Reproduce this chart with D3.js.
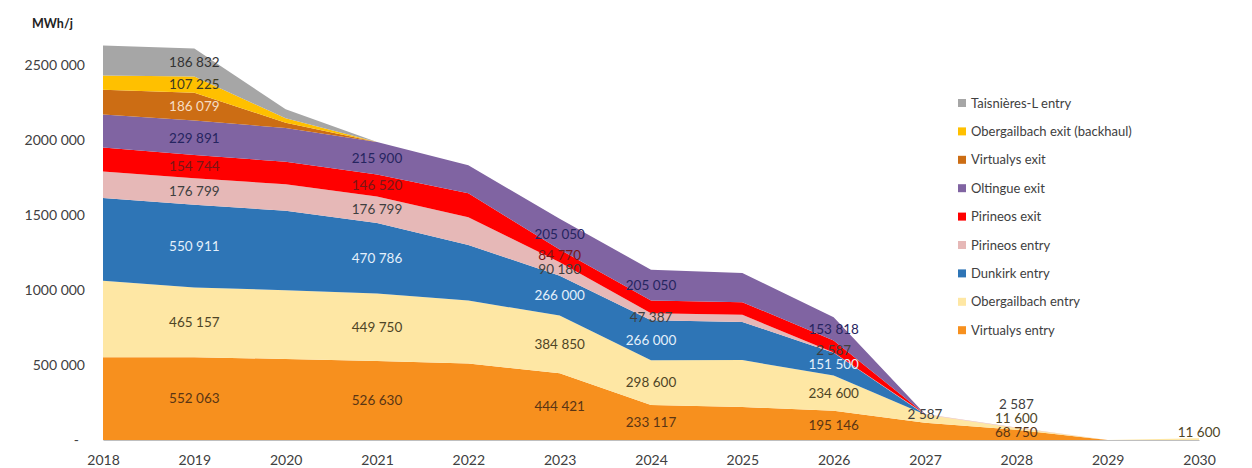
<!DOCTYPE html>
<html>
<head>
<meta charset="utf-8">
<script src="https://cdn.jsdelivr.net/npm/d3@7"></script>
<style>
  html, body { margin: 0; padding: 0; background: #fff; }
  svg { display: block; font-family: Lato, "Open Sans", sans-serif; }
</style>
</head>
<body>
<svg id="chart" width="1252" height="468"></svg>
<script>
// ---- data ----
const years = [2018, 2019, 2020, 2021, 2022, 2023, 2024, 2025, 2026, 2027, 2028, 2029, 2030];
const yTicks = [0, 500000, 1000000, 1500000, 2000000, 2500000];

// series (bottom to top of the stack)
const virtualysEntry    = [552063, 552063, 540000, 526630, 510000, 444421, 233117, 220000, 195146, 115000, 68750, 0, 0];
const obergailbachEntry = [510000, 465157, 458000, 449750, 420000, 384850, 298600, 313000, 234600, 55000, 11600, 0, 11600];
const dunkirkEntry      = [550911, 550911, 530000, 470786, 370000, 266000, 266000, 254000, 151500, 0, 0, 0, 0];
const pirineosEntry     = [176799, 176799, 176799, 176799, 185000, 90180, 47387, 47387, 2587, 2587, 2587, 0, 0];
const pirineosExit      = [160000, 154744, 150000, 146520, 160000, 84770, 84770, 84770, 80000, 0, 0, 0, 0];
const oltingueExit      = [220000, 229891, 225000, 215900, 186000, 205050, 205050, 195000, 153818, 0, 0, 0, 0];
const virtualysExit     = [166000, 186079, 35000, 0, 0, 0, 0, 0, 0, 0, 0, 0, 0];
const obergailbachExit  = [94000, 107225, 30000, 0, 0, 0, 0, 0, 0, 0, 0, 0, 0];
const taisnieresEntry   = [200000, 186832, 60000, 0, 0, 0, 0, 0, 0, 0, 0, 0, 0];

// years that carry a data label, per series
const virtualysEntryLabels    = [2019, 2021, 2023, 2024, 2026, 2028];
const obergailbachEntryLabels = [2019, 2021, 2023, 2024, 2026, 2028, 2030];
const dunkirkEntryLabels      = [2019, 2021, 2023, 2024, 2026];
const pirineosEntryLabels     = [2019, 2021, 2023, 2024, 2026, 2027, 2028];
const pirineosExitLabels      = [2019, 2021, 2023];
const oltingueExitLabels      = [2019, 2021, 2023, 2024, 2026];
const virtualysExitLabels     = [2019];
const obergailbachExitLabels  = [2019];
const taisnieresEntryLabels   = [2019];

const seriesNames = ["Virtualys entry", "Obergailbach entry", "Dunkirk entry", "Pirineos entry",
  "Pirineos exit", "Oltingue exit", "Virtualys exit", "Obergailbach exit (backhaul)", "Taisnières-L entry"];
const seriesValues = [virtualysEntry, obergailbachEntry, dunkirkEntry, pirineosEntry,
  pirineosExit, oltingueExit, virtualysExit, obergailbachExit, taisnieresEntry];
const seriesLabelYears = [virtualysEntryLabels, obergailbachEntryLabels, dunkirkEntryLabels, pirineosEntryLabels,
  pirineosExitLabels, oltingueExitLabels, virtualysExitLabels, obergailbachExitLabels, taisnieresEntryLabels];
const seriesColors = ["#F7901E", "#FEE7A4", "#2E75B6", "#E6B8B7", "#FF0000", "#8064A2", "#CC6D14", "#FFC000", "#A6A6A6"];
const labelColors  = ["#5A3514", "#4E4526", "#E4F0FB", "#3F3F3F", "#7A1616", "#262560", "#F7DEC4", "#3E3A20", "#333333"];

// ---- layout ----
const svg = d3.select("#chart");
const x = d3.scaleLinear().domain([2018, 2030]).range([103, 1199]);
const y = d3.scaleLinear().domain([0, 2500000]).range([440, 65]);

const table = years.map((yr, i) => {
  const row = { year: yr };
  seriesNames.forEach((n, k) => row[n] = seriesValues[k][i]);
  return row;
});
const stack = d3.stack().keys(seriesNames);
const layers = stack(table);

const area = d3.area()
  .x(d => x(d.data.year))
  .y0(d => y(d[0]))
  .y1(d => y(d[1]));

svg.append("g").selectAll("path")
  .data(layers)
  .join("path")
  .attr("d", area)
  .attr("fill", (d, i) => seriesColors[i]);

// number format: "2500 000", "552 063", "2 587"
const numFmt = v => {
  if (v === 0) return "-";
  if (v < 1000) return String(v);
  const hi = Math.floor(v / 1000), lo = v % 1000;
  return hi + " " + String(lo).padStart(3, "0");
};

// x axis
const xAxis = d3.axisBottom(x).tickValues(years).tickFormat(d3.format("d")).tickSize(0).tickPadding(15);
const gx = svg.append("g").attr("transform", `translate(0,${y(0)})`).call(xAxis);
gx.select(".domain").attr("stroke", "#BFBFBF").attr("stroke-width", 1);
gx.selectAll("text").attr("font-size", 14).attr("fill", "#404040").attr("font-family", "Lato, sans-serif");

// y axis labels
const yAxis = d3.axisLeft(y).tickValues(yTicks).tickFormat(numFmt).tickSize(0).tickPadding(0);
const gy = svg.append("g").attr("transform", "translate(85,0)").call(yAxis);
gy.select(".domain").remove();
gy.selectAll("text").attr("font-size", 14).attr("fill", "#404040").attr("font-family", "Lato, sans-serif");
gy.selectAll(".tick").filter(d => d === 0).select("text").attr("dx", -6);

// unit title
svg.append("text").attr("x", 32).attr("y", 28).attr("font-size", 12.5).attr("font-weight", "bold")
  .attr("fill", "#222").text("MWh/j");

// data labels with simple vertical collision avoidance per year
const gl = svg.append("g").attr("font-size", 13.5).attr("text-anchor", "middle");
years.forEach((yr, i) => {
  let prev = Infinity;
  layers.forEach((layer, k) => {
    if (!seriesLabelYears[k].includes(yr)) return;
    const d = layer[i];
    let cy = (y(d[0]) + y(d[1])) / 2;
    cy = Math.min(cy, y(0) - 8, prev - 14);
    prev = cy;
    gl.append("text")
      .attr("x", x(yr))
      .attr("y", cy)
      .attr("dy", "0.35em")
      .attr("fill", labelColors[k])
      .text(numFmt(seriesValues[k][i]));
  });
});

// legend (top entry = top of stack)
const legendOrder = d3.range(seriesNames.length).reverse();
const lg = svg.append("g").attr("transform", "translate(958,103)");
legendOrder.forEach((k, j) => {
  const row = lg.append("g").attr("transform", `translate(0,${j * 28.4})`);
  row.append("rect").attr("x", 0).attr("y", -4).attr("width", 8).attr("height", 8).attr("fill", seriesColors[k]);
  row.append("text").attr("x", 13).attr("y", 0).attr("dy", "0.35em").attr("font-size", 13)
    .attr("fill", "#404040").text(seriesNames[k]);
});
</script>
</body>
</html>
